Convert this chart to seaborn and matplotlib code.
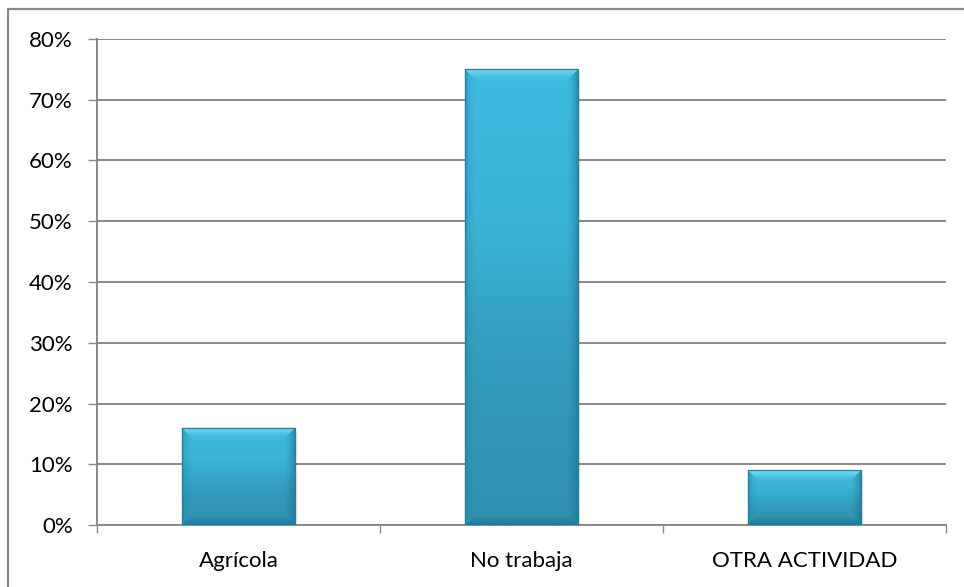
import matplotlib
matplotlib.use("Agg")
import matplotlib.pyplot as plt
import seaborn as sns
import numpy as np
import pandas as pd
from matplotlib.lines import Line2D
from matplotlib.patches import Polygon, Rectangle
from matplotlib.colors import LinearSegmentedColormap
from matplotlib.transforms import IdentityTransform
from matplotlib.ticker import FuncFormatter, MultipleLocator

# Occupation categories and their share of respondents
categories = ["Agrícola", "No trabaja", "OTRA ACTIVIDAD"]
shares = [0.16, 0.75, 0.09]

df = pd.DataFrame({"actividad": categories, "porcentaje": shares})

sns.set_theme(style="white")
plt.rcParams["font.family"] = ["Lato", "DejaVu Sans"]

DPI = 100
fig = plt.figure(figsize=(9.64, 5.87), dpi=DPI)
ax = fig.add_axes([97 / 964, 62 / 587, 849 / 964, 486 / 587])

GRID = "#898989"
BASE = "#38B2D4"

sns.barplot(data=df, x="actividad", y="porcentaje", color=BASE,
            width=0.4, saturation=1, ax=ax, zorder=3, edgecolor="none")

ax.set_ylim(0, 0.80)
ax.set_xlim(-0.5, len(categories) - 0.5)
ax.yaxis.set_major_locator(MultipleLocator(0.10))
ax.yaxis.set_major_formatter(FuncFormatter(lambda v, _: f"{round(v * 100)}%"))
ax.set_xlabel("")
ax.set_ylabel("")

# Horizontal gridlines
ax.yaxis.grid(True, color=GRID, linewidth=1.4, zorder=0)
ax.xaxis.grid(False)
ax.set_axisbelow(True)

for side in ("top", "right"):
    ax.spines[side].set_visible(False)
for side in ("left", "bottom"):
    ax.spines[side].set_visible(True)
    ax.spines[side].set_color(GRID)
    ax.spines[side].set_linewidth(1.4)

ax.tick_params(axis="y", which="major", left=True, length=6.5, width=1.0,
               color=GRID, pad=11, labelsize=16, labelcolor="black")
ax.tick_params(axis="x", which="major", bottom=False, pad=13,
               labelsize=16, labelcolor="black")

# Category separator ticks along the bottom axis
ax.set_xticks(np.arange(-0.5, len(categories), 1.0), minor=True)
ax.tick_params(axis="x", which="minor", bottom=True, length=6, width=1.0,
               color=GRID, direction="out")

# Bevelled, gradient-filled bars
fig.canvas.draw()
grad = LinearSegmentedColormap.from_list(
    "bar", ["#2F90AF", "#339BBB", "#3AB3D6", "#3DBCDF"])
bevel = 10  # pixels
steps = 5
for patch in list(ax.patches):
    x0, w, h = patch.get_x(), patch.get_width(), patch.get_height()
    bb = patch.get_window_extent()
    # soft drop shadow
    for k, a in enumerate([0.08, 0.05, 0.03]):
        off = (k + 1) * 1.5
        ax.add_patch(Rectangle((bb.x0 + off * 0.6, bb.y0 - off), bb.width, bb.height,
                               transform=IdentityTransform(), facecolor="black",
                               alpha=a, edgecolor="none", zorder=2))
    img = ax.imshow(np.linspace(0, 1, 256).reshape(-1, 1), cmap=grad,
                    extent=(x0, x0 + w, 0, h), origin="lower",
                    aspect="auto", zorder=3.5, interpolation="bilinear")
    img.set_clip_path(patch)
    L, R, B, T = bb.x0, bb.x1, bb.y0, bb.y1
    b_full = min(bevel, bb.height / 2.2)
    # bevel faces built from nested layers so they fade into the face
    for s in range(steps):
        b = b_full * (s + 1) / steps
        fade = 1.0 - s / steps
        faces = [
            ([(L, T), (R, T), (R - b, T - b), (L + b, T - b)], "#8FE6F8", 0.32 * fade),
            ([(L, B), (L, T), (L + b, T - b), (L + b, B + b)], "#2A8FAF", 0.20 * fade),
            ([(R, B), (R, T), (R - b, T - b), (R - b, B + b)], "#1F7390", 0.22 * fade),
            ([(L, B), (R, B), (R - b, B + b), (L + b, B + b)], "#1D6A84", 0.22 * fade),
        ]
        for pts, col, a in faces:
            ax.add_patch(Polygon(pts, closed=True, transform=IdentityTransform(),
                                 facecolor=col, alpha=a, edgecolor="none", zorder=4))
    ax.add_patch(Rectangle((L, B), R - L, T - B, transform=IdentityTransform(),
                           facecolor="none", edgecolor="#2A7C96",
                           linewidth=0.9, zorder=4.5))

# Chart-area frame
fx, fy = 8 / 964, 1 - 9 / 587
fig.add_artist(Line2D([fx, 1.0], [fy, fy], transform=fig.transFigure,
                      color=GRID, linewidth=1.6))
fig.add_artist(Line2D([fx, fx], [0.0, fy], transform=fig.transFigure,
                      color=GRID, linewidth=1.6))

fig.savefig("out.png", dpi=DPI)
